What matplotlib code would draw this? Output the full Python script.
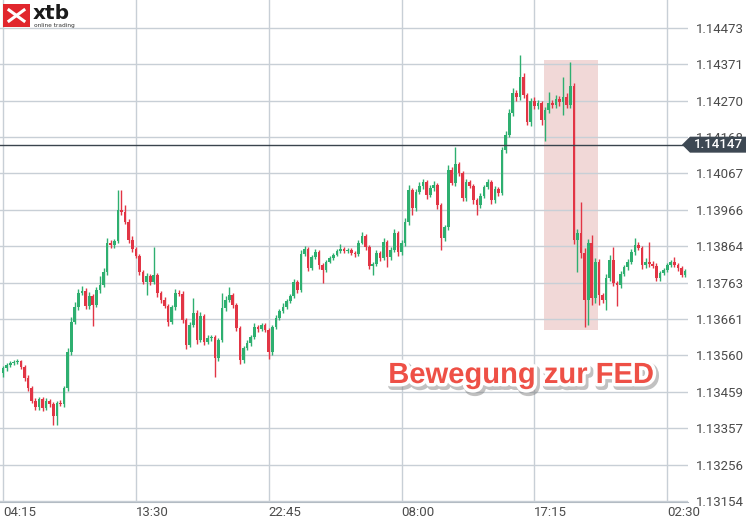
import matplotlib
matplotlib.use('Agg')
import numpy as np
import pandas as pd
import matplotlib.pyplot as plt
import matplotlib.patheffects as pe
from matplotlib.patches import Rectangle, Polygon
from matplotlib.lines import Line2D
from matplotlib import transforms

# EURUSD 15 min candles, closes
closes = [
    1.13525, 1.13534, 1.13539, 1.13542, 1.13545, 1.13528, 1.13498, 1.13470, 1.13434, 1.13417,
    1.13439, 1.13414, 1.13434, 1.13425, 1.13392, 1.13428, 1.13425, 1.13470, 1.13570, 1.13654,
    1.13695, 1.13734, 1.13740, 1.13698, 1.13726, 1.13701, 1.13743, 1.13757, 1.13793, 1.13874,
    1.13868, 1.13879, 1.13965, 1.13960, 1.13932, 1.13882, 1.13857, 1.13837, 1.13793, 1.13765,
    1.13782, 1.13765, 1.13784, 1.13734, 1.13715, 1.13698, 1.13654, 1.13695, 1.13734, 1.13732,
    1.13659, 1.13590, 1.13645, 1.13679, 1.13603, 1.13670, 1.13598, 1.13609, 1.13612, 1.13553,
    1.13603, 1.13693, 1.13715, 1.13729, 1.13701, 1.13637, 1.13548, 1.13581, 1.13595, 1.13612,
    1.13640, 1.13634, 1.13645, 1.13631, 1.13570, 1.13640, 1.13665, 1.13684, 1.13695, 1.13712,
    1.13726, 1.13765, 1.13743, 1.13843, 1.13857, 1.13804, 1.13835, 1.13848, 1.13812, 1.13798,
    1.13821, 1.13832, 1.13840, 1.13851, 1.13857, 1.13851, 1.13854, 1.13846, 1.13843, 1.13874,
    1.13893, 1.13862, 1.13810, 1.13815, 1.13846, 1.13832, 1.13876, 1.13835, 1.13854, 1.13901,
    1.13848, 1.13874, 1.13932, 1.14021, 1.13971, 1.14016, 1.14032, 1.14043, 1.14007, 1.14027,
    1.14035, 1.13979, 1.13887, 1.13918, 1.14077, 1.14041, 1.14093, 1.14068, 1.13999, 1.14043,
    1.14032, 1.13993, 1.13979, 1.14004, 1.14029, 1.14043, 1.13993, 1.14024, 1.14013, 1.14132,
    1.14174, 1.14235, 1.14291, 1.14280, 1.14336, 1.14286, 1.14210, 1.14269, 1.14255, 1.14263,
    1.14216, 1.14244, 1.14263, 1.14258, 1.14274, 1.14266, 1.14280, 1.14258, 1.14311, 1.13882,
    1.13901, 1.13846, 1.13715, 1.13874, 1.13720, 1.13821, 1.13729, 1.13715, 1.13776, 1.13826,
    1.13762, 1.13757, 1.13787, 1.13807, 1.13821, 1.13848, 1.13868, 1.13860, 1.13812, 1.13821,
    1.13815, 1.13810, 1.13776, 1.13790, 1.13798, 1.13812, 1.13821, 1.13812, 1.13804, 1.13784,
    1.13796,
]
first_open = 1.13511

# wick lengths beyond the body, in points (0.00001)
upper_wick = [
    6, 5, 4, 5, 4, 3, 5, 6, 4, 8,
    6, 5, 8, 5, 4, 6, 7, 5, 10, 12,
    14, 10, 12, 8, 10, 6, 8, 25, 10, 12,
    8, 6, 55, 55, 20, 8, 10, 6, 5, 6,
    8, 6, 78, 6, 5, 8, 6, 6, 10, 8,
    6, 5, 8, 42, 8, 10, 6, 8, 6, 5,
    6, 42, 10, 22, 6, 5, 6, 5, 8, 6,
    10, 6, 5, 6, 5, 6, 8, 6, 10, 5,
    6, 8, 5, 10, 8, 6, 6, 8, 5, 6,
    5, 4, 6, 5, 12, 6, 5, 6, 5, 8,
    10, 6, 5, 6, 8, 6, 12, 6, 8, 10,
    6, 8, 10, 14, 6, 8, 10, 8, 6, 8,
    10, 6, 5, 6, 14, 8, 47, 6, 5, 8,
    6, 5, 6, 8, 6, 8, 6, 8, 6, 8,
    10, 12, 14, 8, 61, 10, 6, 8, 10, 8,
    6, 8, 30, 8, 10, 8, 55, 10, 67, 8,
    10, 86, 14, 10, 20, 10, 8, 6, 10, 14,
    36, 6, 8, 6, 8, 8, 20, 8, 6, 10,
    56, 8, 8, 6, 5, 6, 6, 14, 6, 5,
    6,
]
lower_wick = [
    12, 8, 6, 5, 5, 6, 8, 10, 6, 8,
    10, 8, 6, 8, 25, 25, 6, 8, 10, 8,
    6, 8, 6, 10, 8, 60, 6, 8, 6, 10,
    8, 10, 6, 8, 6, 10, 8, 6, 8, 6,
    36, 8, 6, 10, 8, 6, 12, 6, 8, 6,
    10, 12, 8, 6, 10, 6, 8, 6, 8, 53,
    8, 6, 8, 6, 10, 8, 12, 8, 6, 10,
    6, 8, 6, 6, 20, 8, 6, 6, 6, 5,
    6, 5, 8, 6, 6, 8, 6, 6, 10, 36,
    6, 5, 5, 4, 5, 6, 5, 6, 8, 6,
    5, 8, 10, 25, 6, 8, 6, 28, 8, 6,
    10, 8, 10, 8, 20, 8, 6, 8, 10, 6,
    8, 10, 33, 8, 10, 6, 8, 8, 10, 8,
    6, 10, 28, 8, 6, 6, 10, 8, 10, 6,
    8, 6, 8, 10, 8, 10, 8, 10, 8, 10,
    14, 60, 8, 10, 8, 10, 36, 8, 10, 12,
    90, 14, 75, 70, 20, 14, 30, 10, 28, 10,
    10, 60, 8, 6, 8, 6, 8, 6, 10, 8,
    8, 6, 10, 8, 6, 5, 6, 6, 8, 6,
    5,
]

price_ticks = ["1.13154", "1.13256", "1.13357", "1.13459", "1.13560", "1.13661", "1.13763",
               "1.13864", "1.13966", "1.14067", "1.14168", "1.14270", "1.14371", "1.14473"]
marker_price = "1.14147"
label_text = "Bewegung zur FED"

W, H = 746, 525
GREEN = '#2eaf70'
RED = '#e23545'
GRID = '#c8cfd6'

opens = [first_open] + closes[:-1]
o = np.array(opens)
c = np.array(closes)
hi = np.maximum(o, c) + np.array(upper_wick) * 1e-5
lo = np.minimum(o, c) - np.array(lower_wick) * 1e-5
n = len(c)
idx = np.arange(n)
times = pd.date_range("2021-12-14 04:15", periods=n, freq="15min")

plt.rcParams['font.family'] = ['Roboto', 'DejaVu Sans']

fig = plt.figure(figsize=(W / 100, H / 100), dpi=100)
ax = fig.add_axes([0, 23.5 / H, 688 / W, 501.5 / H])

up = c >= o
cols = np.where(up, GREEN, RED)
ax.vlines(idx, lo, hi, colors=cols, lw=1.0, zorder=3)
body = np.maximum(np.abs(c - o), 0.00002)
ax.bar(idx, body, bottom=np.minimum(o, c), width=0.74, color=cols, lw=0, zorder=3)

# shaded FED move box
ax.add_patch(Rectangle((150.7, 1.13631), 15.0, 1.14383 - 1.13631,
                       facecolor='#c0504d', alpha=0.22, lw=0, zorder=1))

ax.set_xlim(-0.84, 190.8)
ax.set_ylim(1.13153, 1.14550)

ax.set_yticks([float(t) for t in price_ticks])
ax.set_yticklabels(price_ticks)
ax.yaxis.tick_right()
ax.tick_params(axis='y', length=0, pad=6, labelsize=9.5, labelcolor='#4b4b4b')

tick_idx = idx[::37]
ax.set_xticks(tick_idx)
ax.set_xticklabels([times[i].strftime('%H:%M') for i in tick_idx])
for lbl in ax.get_xticklabels():
    lbl.set_ha('left')
ax.tick_params(axis='x', length=0, pad=3, labelsize=9.5, labelcolor='#4b4b4b')

ax.grid(True, color=GRID, lw=1)
for s in ['top', 'left', 'right']:
    ax.spines[s].set_visible(False)
ax.spines['bottom'].set_color('#b3bbc3')

# marker line + price label on the right
mp = float(marker_price)
ax.axhline(mp, color='#3a444d', lw=1, zorder=4)
bt = transforms.blended_transform_factory(fig.transFigure, ax.transData)
dy = 8 * 2.784e-5
box = Polygon([(682 / W, mp), (690 / W, mp + dy), (1.0, mp + dy), (1.0, mp - dy), (690 / W, mp - dy)],
              closed=True, transform=bt, facecolor='#3d4853', edgecolor='none', zorder=10, clip_on=False)
fig.add_artist(box)
fig.text(694 / W, mp, marker_price, transform=bt, color='white', fontsize=9.5,
         weight='medium', va='center', ha='left', zorder=11)

# annotation text
fig.text(521 / W, 1 - 375 / H, label_text, ha='center', va='center', fontsize=21,
         family='Liberation Sans', weight='bold', color='#ee5046', zorder=12,
         path_effects=[pe.Stroke(linewidth=6, foreground='#777777', alpha=0.45, offset=(1.5, -2)),
                       pe.Stroke(linewidth=5, foreground='white'), pe.Normal()])

# xtb logo
fig.add_artist(Rectangle((3 / W, 1 - 27 / H), 27 / W, 23 / H, transform=fig.transFigure,
                         facecolor='#e1262d', edgecolor='none', zorder=12))
fig.add_artist(Line2D([9 / W, 24 / W], [1 - 10 / H, 1 - 21 / H], transform=fig.transFigure,
                      color='white', lw=2.2, zorder=13))
fig.add_artist(Line2D([9 / W, 24 / W], [1 - 21 / H, 1 - 10 / H], transform=fig.transFigure,
                      color='white', lw=2.2, zorder=13))
fig.text(33 / W, 1 - 19 / H, 'xtb', family='DejaVu Sans', weight='bold', fontsize=14.5,
         color='#1b1b1b', va='baseline', ha='left', zorder=13)
fig.text(33.5 / W, 1 - 26.5 / H, 'online trading', family='DejaVu Sans', fontsize=4.2,
         color='#333333', va='baseline', ha='left', zorder=13)

fig.savefig('out.png', dpi=100)
